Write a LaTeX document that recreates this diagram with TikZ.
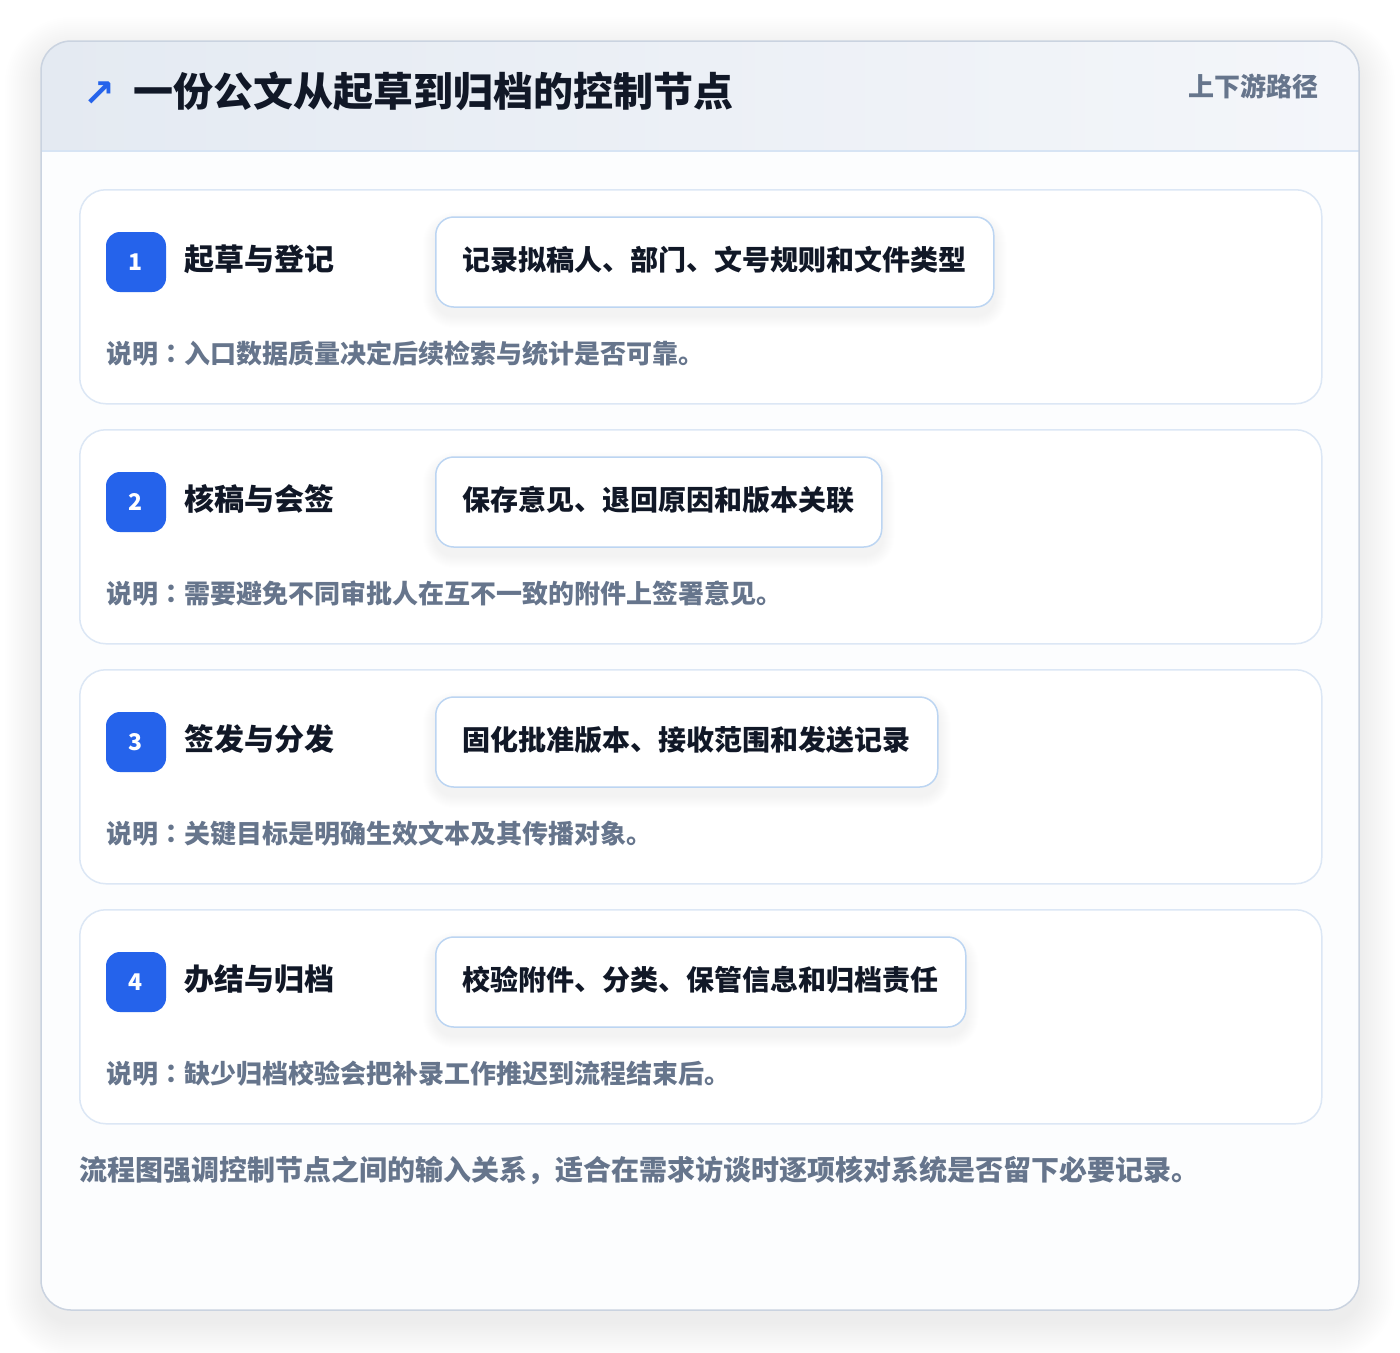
\documentclass[tikz,border=0pt]{standalone}
\usepackage{fontspec}
\setmainfont{Noto Sans CJK SC}
\newfontfamily\tcfont{Noto Sans CJK TC}
\newfontfamily\arrowfont{DejaVu Sans}
\usetikzlibrary{calc}
\definecolor{ink}{HTML}{111827}
\definecolor{accent}{HTML}{2563EB}
\definecolor{muted}{HTML}{66758C}
\definecolor{cardline}{HTML}{CAD3E0}
\definecolor{stepline}{HTML}{DCE7F5}
\definecolor{boxline}{HTML}{BCD5F2}
\definecolor{headL}{HTML}{E4EAF2}
\definecolor{headR}{HTML}{F4F6FA}
\definecolor{headline}{HTML}{D7E4F4}
\definecolor{cardfill}{HTML}{FCFDFE}
\pgfdeclarelayer{back}
\pgfdeclarelayer{cards}
\pgfdeclarelayer{shad}
\pgfsetlayers{back,cards,shad,main}
\tikzset{
  txt/.style={inner sep=0pt},
  stepcard/.style={draw=stepline, line width=1.5pt, fill=white, rounded corners=26pt,
    minimum width=1242pt, minimum height=214pt, inner sep=0pt, anchor=north west},
  badge/.style={fill=accent, rounded corners=14pt, minimum size=60pt, inner sep=0pt,
    text=white, font=\bfseries\fontsize{23}{27}\selectfont},
  steptitle/.style={txt, anchor=base west, text=ink, font=\bfseries\fontsize{30}{36}\selectfont},
  infobox/.style={draw=boxline, line width=1.5pt, fill=white, rounded corners=18pt,
    minimum height=90pt, inner xsep=27pt, inner ysep=0pt, text height=24.6pt, text depth=8pt,
    anchor=west, text=ink, font=\bfseries\fontsize{28}{34}\selectfont},
  notetext/.style={txt, anchor=base west, text=muted, font=\bfseries\fontsize{26}{32}\selectfont},
}
\begin{document}
\begin{tikzpicture}[x=1pt,y=-1pt]
\useasboundingbox (0,0) rectangle (1400,1352);
% main card with soft shadow and header
\begin{pgfonlayer}{back}
  \fill[white] (0,0) rectangle (1400,1352);
  \foreach \k in {1,...,18} {
    \pgfmathsetmacro\rr{30+2*\k}
    \fill[black, opacity=0.0045, rounded corners=\rr pt]
      (41-2*\k, 41-2*\k+12) rectangle (1359+2*\k, 1310+2*\k+12);
  }
  \fill[cardfill, rounded corners=30pt] (41,41) rectangle (1359,1310);
  \begin{scope}
    \clip[rounded corners=30pt] (41,41) rectangle (1359,1310);
    \shade[left color=headL, right color=headR] (41,41) rectangle (1359,151);
  \end{scope}
  \draw[headline, line width=1.5pt] (41,151) -- (1359,151);
  \draw[cardline, line width=1.5pt, rounded corners=30pt] (41,41) rectangle (1359,1310);
\end{pgfonlayer}
\node[text=accent, inner sep=0pt, font=\arrowfont\bfseries\fontsize{38}{44}\selectfont] (arrow) at (99,94) {↗};
\node[txt, anchor=base west, text=ink, font=\bfseries\fontsize{40}{48}\selectfont] (title) at (133,106.5) {一份公文从起草到归档的控制节点};
\node[txt, anchor=base east, text=muted, font=\bfseries\fontsize{26}{32}\selectfont] (tag) at (1319,96.6) {上下游路径};
% steps
\foreach \i/\t/\b/\n in {
  1/起草与登记/记录拟稿人、部门、文号规则和文件类型/入口数据质量决定后续检索与统计是否可靠。,
  2/核稿与会签/保存意见、退回原因和版本关联/需要避免不同审批人在互不一致的附件上签署意见。,
  3/签发与分发/固化批准版本、接收范围和发送记录/关键目标是明确生效文本及其传播对象。,
  4/办结与归档/校验附件、分类、保管信息和归档责任/缺少归档校验会把补录工作推迟到流程结束后。} {
  \pgfmathsetmacro\top{189+240*(\i-1)}
  \begin{pgfonlayer}{cards}
    \node[stepcard] (card\i) at (79,\top) {};
  \end{pgfonlayer}
  \node[badge] (badge\i) at (136,\top+73) {\i};
  \node[steptitle] (title\i) at (184,\top+81.5) {\t};
  \node[infobox] (box\i) at (435,\top+73) {\b};
  \node[notetext] (note\i) at (106,\top+174.6) {说明{\tcfont ：}\n};
  \begin{pgfonlayer}{shad}
    \foreach \k in {1,...,12} {
      \pgfmathsetmacro\rr{18+\k}
      \fill[black, opacity=0.0045, rounded corners=\rr pt]
        ([shift={(-\k,8-\k)}]box\i.north west) rectangle ([shift={(\k,8+\k)}]box\i.south east);
    }
  \end{pgfonlayer}
}
\node[txt, anchor=base west, text=muted, font=\bfseries\fontsize{28}{34}\selectfont] (footer) at (79,1180) {流程图强调控制节点之间的输入关系，适合在需求访谈时逐项核对系统是否留下必要记录。};
\end{tikzpicture}
\end{document}
